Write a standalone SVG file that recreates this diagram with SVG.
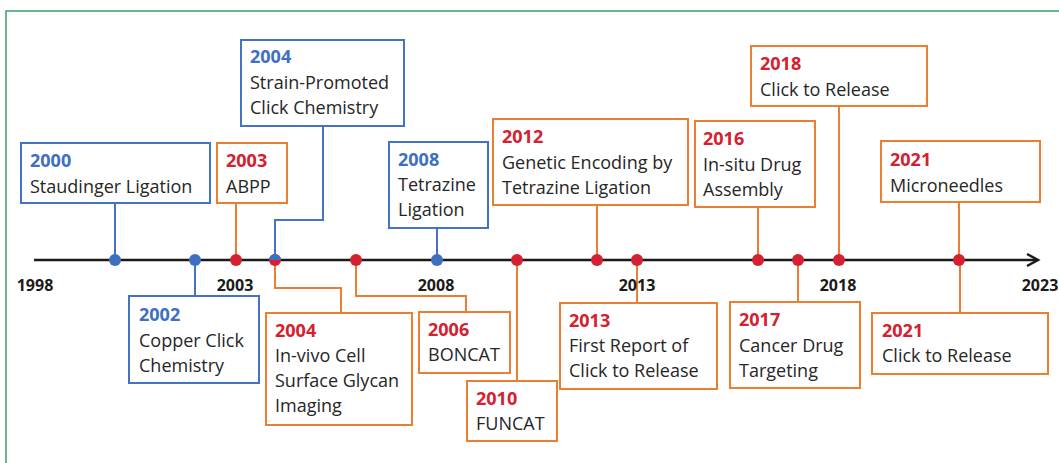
<svg xmlns="http://www.w3.org/2000/svg" width="1059" height="463" viewBox="0 0 1059 463">
<style>
.bg{fill:#ffffff}
.frame{fill:none;stroke:#3d9a6c;stroke-width:1.5}
.bb{fill:#ffffff;stroke:#4472C4;stroke-width:2}
.ob{fill:#ffffff;stroke:#ED7D31;stroke-width:2}
.bc{fill:none;stroke:#4472C4;stroke-width:2}
.oc{fill:none;stroke:#ED7D31;stroke-width:2}
text{font-family:"Open Sans","Noto Sans","Liberation Sans",sans-serif;font-size:18px;fill:#262626}
.yb{font-weight:bold;fill:#3E6FC0}
.yr{font-weight:bold;fill:#D42030}
.ax{font-weight:bold;font-size:16px;fill:#1a1a1a;text-anchor:middle}
.dr{fill:#D42030}
.db{fill:#3E6FC0}
</style>
<rect class="bg" x="0" y="0" width="1059" height="463"/>
<path class="frame" d="M6,470 L6,11 L1070,11"/>

<g id="connectors">
  <line x1="34" y1="260" x2="1036" y2="260" stroke="#1a1a1a" stroke-width="2.5"/>
  <polyline points="1027,254 1038,260 1027,266" fill="none" stroke="#1a1a1a" stroke-width="2.5"/>
  <line class="bc" x1="115" y1="203" x2="115" y2="260"/>
  <line class="oc" x1="236" y1="203" x2="236" y2="260"/>
  <polyline class="bc" points="323,126 323,220 275,220 275,260"/>
  <line class="bc" x1="437" y1="228" x2="437" y2="260"/>
  <line class="oc" x1="597" y1="205" x2="597" y2="260"/>
  <line class="oc" x1="758" y1="207" x2="758" y2="260"/>
  <line class="oc" x1="839" y1="106" x2="839" y2="260"/>
  <line class="oc" x1="959" y1="202" x2="959" y2="260"/>
  <line class="bc" x1="195" y1="260" x2="195" y2="296"/>
  <polyline class="oc" points="275,260 275,288 341,288 341,313"/>
  <polyline class="oc" points="356,260 356,296 466,296 466,312"/>
  <line class="oc" x1="517" y1="260" x2="517" y2="381"/>
  <line class="oc" x1="637" y1="260" x2="637" y2="303"/>
  <line class="oc" x1="798" y1="260" x2="798" y2="302"/>
  <line class="oc" x1="960" y1="260" x2="960" y2="313"/>
</g>

<g id="dots">
  <circle class="db" cx="115" cy="260" r="6"/>
  <circle class="db" cx="195" cy="260" r="6"/>
  <circle class="dr" cx="236" cy="260" r="6"/>
  <circle class="dr" cx="275" cy="260" r="6"/>
  <path class="db" d="M269,260 A6,6 0 0 1 281,260 Z"/>
  <circle class="dr" cx="356" cy="260" r="6"/>
  <circle class="db" cx="437" cy="260" r="6"/>
  <circle class="dr" cx="517" cy="260" r="6"/>
  <circle class="dr" cx="597" cy="260" r="6"/>
  <circle class="dr" cx="637" cy="260" r="6"/>
  <circle class="dr" cx="758" cy="260" r="6"/>
  <circle class="dr" cx="798" cy="260" r="6"/>
  <circle class="dr" cx="839" cy="260" r="6"/>
  <circle class="dr" cx="959" cy="260" r="6"/>
</g>

<g id="axis-labels">
  <text class="ax" x="35" y="291">1998</text>
  <text class="ax" x="235" y="291">2003</text>
  <text class="ax" x="436" y="291">2008</text>
  <text class="ax" x="637" y="291">2013</text>
  <text class="ax" x="838" y="291">2018</text>
  <text class="ax" x="1040" y="291">2023</text>
</g>

<g id="n2000">
  <rect class="bb" x="21" y="143" width="189" height="60"/>
  <text class="yb" x="30" y="167">2000</text>
  <text x="30" y="193">Staudinger Ligation</text>
</g>
<g id="n2003">
  <rect class="ob" x="217" y="143" width="70" height="60"/>
  <text class="yr" x="226" y="167">2003</text>
  <text x="226" y="193">ABPP</text>
</g>
<g id="n2004a">
  <rect class="bb" x="241" y="40" width="163" height="86"/>
  <text class="yb" x="250" y="63">2004</text>
  <text x="250" y="89">Strain-Promoted</text>
  <text x="250" y="114">Click Chemistry</text>
</g>
<g id="n2008">
  <rect class="bb" x="389" y="142" width="99" height="86"/>
  <text class="yb" x="398" y="166">2008</text>
  <text x="398" y="191">Tetrazine</text>
  <text x="398" y="216">Ligation</text>
</g>
<g id="n2012">
  <rect class="ob" x="493" y="119" width="195" height="86"/>
  <text class="yr" x="502" y="143">2012</text>
  <text x="502" y="169">Genetic Encoding by</text>
  <text x="502" y="194">Tetrazine Ligation</text>
</g>
<g id="n2016">
  <rect class="ob" x="695" y="121" width="120" height="86"/>
  <text class="yr" x="703" y="145">2016</text>
  <text x="703" y="171">In-situ Drug</text>
  <text x="703" y="196">Assembly</text>
</g>
<g id="n2018">
  <rect class="ob" x="751" y="46" width="176" height="60"/>
  <text class="yr" x="760" y="70">2018</text>
  <text x="760" y="96">Click to Release</text>
</g>
<g id="n2021a">
  <rect class="ob" x="881" y="141" width="159" height="61"/>
  <text class="yr" x="890" y="166">2021</text>
  <text x="890" y="192">Microneedles</text>
</g>
<g id="n2002">
  <rect class="bb" x="129" y="296" width="130" height="87"/>
  <text class="yb" x="139" y="321">2002</text>
  <text x="139" y="347">Copper Click</text>
  <text x="139" y="372">Chemistry</text>
</g>
<g id="n2004b">
  <rect class="ob" x="266" y="313" width="146" height="112"/>
  <text class="yr" x="275" y="337">2004</text>
  <text x="275" y="362">In-vivo Cell</text>
  <text x="275" y="387">Surface Glycan</text>
  <text x="275" y="412">Imaging</text>
</g>
<g id="n2006">
  <rect class="ob" x="419" y="312" width="91" height="61"/>
  <text class="yr" x="428" y="336">2006</text>
  <text x="428" y="361">BONCAT</text>
</g>
<g id="n2010">
  <rect class="ob" x="467" y="381" width="90" height="60"/>
  <text class="yr" x="476" y="405">2010</text>
  <text x="476" y="430">FUNCAT</text>
</g>
<g id="n2013">
  <rect class="ob" x="560" y="303" width="157" height="86"/>
  <text class="yr" x="569" y="327">2013</text>
  <text x="569" y="352">First Report of</text>
  <text x="569" y="377">Click to Release</text>
</g>
<g id="n2017">
  <rect class="ob" x="730" y="302" width="130" height="86"/>
  <text class="yr" x="739" y="326">2017</text>
  <text x="739" y="352">Cancer Drug</text>
  <text x="739" y="377">Targeting</text>
</g>
<g id="n2021b">
  <rect class="ob" x="872" y="313" width="176" height="61"/>
  <text class="yr" x="882" y="337">2021</text>
  <text x="882" y="362">Click to Release</text>
</g>
</svg>
